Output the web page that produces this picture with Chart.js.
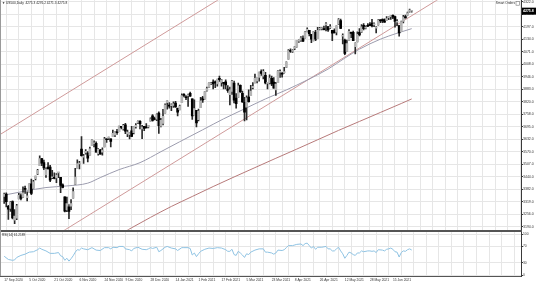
<!DOCTYPE html>
<html><head><meta charset="utf-8">
<script src="https://cdn.jsdelivr.net/npm/chart.js"></script>
<style>
html,body{margin:0;padding:0;background:#fff;overflow:hidden;}
#wrap{position:relative;width:536px;height:284px;background:#fff;}
#c1{position:absolute;left:0;top:0;}
#c2{position:absolute;left:0;top:232px;}
#sep{position:absolute;left:0;top:230px;width:522px;height:2px;background:#555;}
#lb{position:absolute;left:0;top:0;width:1px;height:276px;background:#9a9a9a;}
</style></head><body>
<div id="wrap">
<canvas id="c1" width="536" height="230"></canvas>
<div id="sep"></div>
<canvas id="c2" width="536" height="52"></canvas>
<div id="lb"></div>
</div>
<script>
// ---------------- DATA ----------------
const symbolName = 'US500,Daily';
const xLabels = ['17 Sep 2020','5 Oct 2020','21 Oct 2020','6 Nov 2020','24 Nov 2020','9 Dec 2020','28 Dec 2020','14 Jan 2021','1 Feb 2021','17 Feb 2021','5 Mar 2021','23 Mar 2021','8 Apr 2021','26 Apr 2021','12 May 2021','28 May 2021','15 Jun 2021'];
const xLabelBars = [0,12,24,36,48,58,70,82,93,104,116,128,139,151,163,175,186];
const priceTicks = [3194.0,3256.0,3319.0,3382.0,3444.0,3507.0,3570.0,3632.0,3695.0,3758.0,3820.0,3883.0,3946.0,4008.0,4071.0,4134.0,4197.0,4260.0,4322.0];
const rsiTicks = [0,30,70,100];

const openP = [3346,3357,3295,3285,3320,3226,3236,3333,3350,3341,
3385,3339,3367,3408,3385,3434,3459,3500,3535,3515,
3453,3493,3493,3439,3439,3438,3464,3441,3403,3343,
3278,3293,3296,3336,3406,3485,3508,3583,3543,3564,
3563,3552,3600,3610,3612,3560,3579,3567,3594,3635,
3638,3634,3645,3654,3668,3670,3694,3684,3705,3659,
3656,3675,3666,3696,3714,3722,3684,3698,3694,3694,
3723,3750,3736,3733,3764,3698,3712,3764,3816,3803,
3801,3802,3814,3788,3781,3816,3857,3845,3851,3863,
3836,3755,3778,3731,3791,3840,3836,3878,3893,3910,
3920,3917,3911,3939,3918,3916,3921,3885,3857,3873,
3915,3839,3842,3903,3863,3818,3793,3844,3851,3891,
3916,3925,3943,3973,3949,3953,3913,3916,3938,3920,
3880,3917,3969,3963,3967,3993,4035,4075,4074,4089,
4097,4125,4130,4141,4140,4174,4180,4159,4128,4170,
4138,4185,4187,4186,4207,4198,4192,4179,4178,4170,
4210,4228,4150,4131,4074,4129,4169,4170,4098,4121,
4169,4170,4205,4191,4201,4210,4216,4207,4191,4207,
4229,4234,4233,4229,4243,4248,4255,4249,4220,4204,
4173,4224,4249,4256,4274,4275.3];
const highP = [3362,3363,3301,3320,3323,3279,3306,3361,3358,3393,
3397,3369,3409,3432,3426,3447,3482,3549,3537,3528,
3489,3515,3502,3476,3464,3460,3466,3441,3409,3343,
3342,3305,3330,3389,3486,3529,3521,3646,3557,3581,
3570,3593,3629,3624,3619,3586,3582,3589,3642,3635,
3644,3634,3678,3670,3682,3699,3698,3708,3712,3678,
3665,3697,3695,3711,3725,3726,3702,3698,3711,3703,
3740,3756,3744,3760,3770,3738,3783,3811,3826,3817,
3810,3820,3823,3789,3804,3860,3862,3852,3859,3870,
3836,3830,3778,3784,3843,3848,3872,3894,3916,3919,
3931,3926,3935,3950,3933,3916,3931,3902,3895,3928,
3925,3862,3914,3906,3874,3843,3851,3881,3903,3917,
3960,3944,3970,3981,3983,3969,3919,3956,3950,3942,
3919,3978,3981,3969,3994,4021,4083,4087,4083,4098,
4129,4132,4148,4152,4173,4192,4180,4159,4175,4179,
4194,4194,4193,4201,4218,4199,4209,4179,4187,4202,
4238,4236,4162,4135,4131,4183,4171,4176,4117,4172,
4188,4209,4213,4202,4214,4218,4235,4217,4198,4234,
4233,4237,4237,4249,4249,4255,4258,4251,4233,4204,
4226,4255,4256,4271,4286,4276.2];
const lowP = [3310,3293,3230,3270,3232,3209,3228,3333,3328,3340,
3361,3323,3367,3354,3385,3428,3455,3500,3500,3480,
3441,3483,3420,3435,3433,3415,3440,3364,3388,3268,
3269,3233,3279,3336,3405,3485,3484,3547,3511,3557,
3519,3552,3600,3594,3567,3553,3557,3552,3594,3617,
3630,3594,3645,3645,3657,3670,3684,3678,3660,3645,
3634,3645,3659,3688,3711,3685,3636,3676,3689,3690,
3723,3723,3730,3726,3662,3695,3705,3764,3784,3789,
3776,3792,3792,3750,3780,3816,3845,3831,3797,3847,
3732,3755,3694,3725,3791,3817,3834,3874,3892,3907,
3885,3891,3899,3923,3899,3885,3885,3868,3805,3858,
3815,3789,3842,3868,3818,3724,3730,3819,3851,3885,
3916,3915,3924,3953,3935,3910,3885,3911,3901,3889,
3853,3917,3943,3944,3964,3992,4035,4069,4068,4083,
4095,4119,4124,4123,4140,4171,4151,4118,4126,4128,
4138,4182,4182,4181,4177,4174,4188,4128,4165,4157,
4208,4188,4111,4057,4074,4129,4143,4127,4061,4121,
4152,4168,4182,4187,4198,4203,4197,4198,4167,4206,
4218,4218,4219,4229,4233,4234,4238,4196,4203,4150,
4173,4217,4241,4256,4271,4271.3];
const closeP = [3357,3319,3281,3316,3237,3247,3298,3351,3335,3363,
3381,3348,3408,3361,3419,3447,3477,3535,3512,3489,
3483,3484,3427,3443,3436,3453,3465,3401,3391,3271,
3310,3270,3310,3370,3443,3510,3509,3550,3545,3572,
3537,3585,3627,3610,3568,3582,3558,3578,3635,3630,
3638,3622,3662,3669,3666,3699,3692,3702,3673,3668,
3663,3647,3695,3702,3722,3709,3694,3687,3690,3703,
3735,3727,3732,3756,3701,3727,3748,3804,3825,3799,
3801,3810,3795,3768,3799,3852,3853,3841,3855,3849,
3750,3787,3714,3774,3826,3830,3872,3887,3915,3911,
3910,3916,3934,3932,3931,3913,3906,3876,3881,3925,
3829,3811,3901,3870,3820,3768,3841,3821,3875,3898,
3939,3943,3969,3963,3974,3915,3913,3940,3911,3889,
3910,3975,3971,3959,3973,4020,4078,4074,4080,4097,
4129,4128,4142,4125,4171,4185,4163,4135,4173,4135,
4180,4188,4187,4183,4211,4181,4192,4165,4168,4202,
4233,4189,4152,4063,4113,4174,4164,4128,4115,4159,
4156,4197,4188,4196,4200,4204,4202,4208,4192,4230,
4227,4227,4220,4239,4247,4255,4246,4224,4222,4166,
4224,4246,4242,4267,4281,4275.8];

// moving averages (bar index, value)
const ma50Bars = [0,10,20,30,40,46,55,65,75,84,95,105,115,125,135,145,155,163,170,180,188,195];
const ma50Vals = [3352,3372,3390,3398,3412,3440,3480,3515,3570,3620,3680,3735,3785,3835,3880,3930,3985,4040,4085,4135,4165,4188];
const ma200Bars = [55,61,70,80,90,100,110,120,130,140,150,160,170,180,190,195];
const ma200Vals = [3152,3188,3240,3295,3345,3395,3443,3490,3537,3583,3630,3677,3722,3767,3812,3835];
// channel lines (bar index, price)
const chanMidBars = [-2,247];
const chanMidVals = [2976,4590];
const chanUpBars = [-2,247];
const chanUpVals = [3656,5270];

// RSI(14)
const rsiLabel = 'RSI(14) 61.2189';
const rsiBars = [0,2,4,5,6,8,10,12,14,16,17,18,20,22,24,26,27,28,29,30,31,32,33,34,35,36,37,38,40,42,44,46,48,50,51,52,54,55,57,58,60,61,62,64,66,68,69,70,71,73,74,75,77,78,80,82,83,85,86,88,89,90,91,92,93,94,96,98,100,102,104,106,107,108,109,110,111,112,113,114,115,116,117,118,120,122,124,125,126,128,129,130,131,133,134,135,136,138,140,142,143,144,145,146,147,148,149,150,152,154,155,156,157,158,159,160,161,162,163,164,165,166,167,168,169,170,171,172,174,175,176,177,178,179,181,182,183,184,185,186,187,188,189,190,191,192,193,194,195];
const rsiVals = [46,38,36,37,43,48,51,56,57,62,66,63,59,53,53,55,47,45,36,41,34,40,47,56,62,61,66,64,62,67,61,60,67,67,64,68,67,70,70,64,62,59,65,68,63,62,64,67,65,68,57,60,68,70,66,64,60,67,67,67,65,49,54,45,52,58,63,66,65,67,66,62,58,58,63,50,48,58,54,49,43,52,50,56,61,64,64,56,56,54,51,54,61,60,62,67,72,72,75,76,72,77,78,72,66,70,63,68,68,70,64,64,59,59,64,68,59,52,41,48,56,54,50,48,54,54,59,57,59,59,58,59,55,62,61,59,63,64,66,63,57,56,44,55,59,58,62,64,61.2];

// ---------------- CHART ----------------
const FONT = '"Liberation Sans", Arial, sans-serif';
const X_MIN = -2, X_MAX = 247.3;
const gridCol = '#e6e6e6';
const axisCol = '#3a3a3a';
const n = closeP.length - 1;
const idx = closeP.map((_, i) => i);

function gridTicks(scale) {
  const t = [];
  for (let v = X_MIN; v <= X_MAX; v += 6) t.push({value: v});
  scale.ticks = t;
}
const fixW = s => { s.width = 15; };

const hdrPlugin = {
  id: 'hdr',
  afterDraw(chart) {
    const ctx = chart.ctx, a = chart.chartArea;
    ctx.save();
    ctx.font = '3.2px ' + FONT;
    ctx.fillStyle = '#222';
    ctx.textBaseline = 'middle';
    ctx.textAlign = 'left';
    ctx.fillText('\u25BC ' + symbolName + '  ' + [openP[n], highP[n], lowP[n], closeP[n]].map(v => v.toFixed(1)).join(' '), 2, 3.5);
    ctx.textAlign = 'right';
    ctx.fillText('Smart Orders', a.right - 6, 3.5);
    ctx.strokeStyle = '#777'; ctx.lineWidth = 0.6;
    ctx.strokeRect(a.right - 5, 1.6, 3.6, 3.6);
    const y = chart.scales.y.getPixelForValue(closeP[n]);
    ctx.fillStyle = '#000';
    ctx.fillRect(a.right + 1, y - 3.5, chart.width - a.right - 1, 7);
    ctx.fillStyle = '#fff';
    ctx.textAlign = 'left';
    ctx.font = 'bold 3.5px ' + FONT;
    ctx.fillText(closeP[n].toFixed(1), a.right + 2, y + 0.2);
    ctx.restore();
  }
};

new Chart(document.getElementById('c1'), {
  type: 'bar',
  data: {
    datasets: [
      { label: 'wick', data: idx.map(i => ({x: i, y: [lowP[i], highP[i]]})),
        backgroundColor: '#2a2a2a', barThickness: 1, grouped: false, borderWidth: 0, order: 1 },
      { label: 'body', data: idx.map(i => ({x: i, y: [Math.min(openP[i], closeP[i]), Math.max(openP[i], closeP[i])]})),
        backgroundColor: c => closeP[c.dataIndex] >= openP[c.dataIndex] ? '#b4b4b4' : '#000000',
        barThickness: 2, grouped: false, borderWidth: 0, minBarLength: 1, order: 0 },
      { type: 'line', label: 'MA slow', data: ma50Bars.map((b, k) => ({x: b, y: ma50Vals[k]})),
        borderColor: '#9c9cae', borderWidth: 1, pointRadius: 0, cubicInterpolationMode: 'monotone', order: 2 },
      { type: 'line', label: 'MA long', data: ma200Bars.map((b, k) => ({x: b, y: ma200Vals[k]})),
        borderColor: '#b77a7a', borderWidth: 1, pointRadius: 0, cubicInterpolationMode: 'monotone', order: 2 },
      { type: 'line', label: 'Channel mid', data: chanMidBars.map((b, k) => ({x: b, y: chanMidVals[k]})),
        borderColor: '#cf9a9a', borderWidth: 1, pointRadius: 0, order: 3 },
      { type: 'line', label: 'Channel up', data: chanUpBars.map((b, k) => ({x: b, y: chanUpVals[k]})),
        borderColor: '#cf9a9a', borderWidth: 1, pointRadius: 0, order: 3 }
    ]
  },
  options: {
    responsive: false, animation: false, events: [],
    layout: {padding: 0},
    plugins: {legend: {display: false}, tooltip: {enabled: false}},
    scales: {
      x: { type: 'linear', min: X_MIN, max: X_MAX, offset: false,
           afterBuildTicks: gridTicks,
           ticks: {display: false},
           grid: {color: gridCol, drawTicks: false, lineWidth: 1},
           border: {display: false} },
      y: { type: 'linear', position: 'right', min: 3177.6, max: 4331,
           afterBuildTicks: s => { s.ticks = priceTicks.map(v => ({value: v})); },
           afterFit: fixW,
           ticks: {font: {size: 3.5, family: FONT, lineHeight: 0.1}, color: '#333', padding: 0, autoSkip: false,
                   callback: v => v.toFixed(1)},
           grid: {color: gridCol, tickColor: axisCol, tickLength: 2, lineWidth: 1},
           border: {display: true, color: axisCol, width: 1} }
    }
  },
  plugins: [hdrPlugin]
});

const rsiPlugin = {
  id: 'rsiHdr',
  afterDraw(chart) {
    const ctx = chart.ctx;
    ctx.save();
    ctx.font = '3.2px ' + FONT;
    ctx.fillStyle = '#222';
    ctx.textBaseline = 'middle';
    ctx.fillText(rsiLabel, 2, 2.8);
    ctx.restore();
  }
};

new Chart(document.getElementById('c2'), {
  type: 'line',
  data: {
    datasets: [
      { label: 'RSI', data: rsiBars.map((b, k) => ({x: b, y: rsiVals[k]})),
        borderColor: '#8fc3e3', borderWidth: 1, pointRadius: 0, tension: 0 }
    ]
  },
  options: {
    responsive: false, animation: false, events: [],
    layout: {padding: 0},
    plugins: {legend: {display: false}, tooltip: {enabled: false}},
    scales: {
      x: { type: 'linear', min: X_MIN, max: X_MAX, offset: false, position: 'bottom',
           afterBuildTicks: gridTicks,
           ticks: {display: false},
           grid: {color: gridCol, drawTicks: false},
           border: {display: false} },
      x2: { type: 'linear', min: X_MIN, max: X_MAX, offset: false, position: 'bottom',
            afterBuildTicks: s => { s.ticks = xLabelBars.map(v => ({value: v})); },
            afterFit: s => { s.height = 8; },
            ticks: {align: 'start', autoSkip: false, maxRotation: 0, minRotation: 0, padding: 2,
                    font: {size: 3.3, family: FONT}, color: '#333',
                    callback: (v) => { const k = xLabelBars.indexOf(v); return k >= 0 ? xLabels[k] : ''; }},
            grid: {display: false, drawTicks: false},
            border: {display: true, color: '#555', width: 1} },
      y: { type: 'linear', position: 'right', min: -2.4, max: 104.9,
           afterBuildTicks: s => { s.ticks = rsiTicks.map(v => ({value: v})); },
           afterFit: fixW,
           ticks: {font: {size: 3.3, family: FONT, lineHeight: 0.1}, color: '#333', padding: 0, autoSkip: false},
           grid: {color: gridCol, tickColor: axisCol, tickLength: 2},
           border: {display: true, color: axisCol, width: 1} }
    }
  },
  plugins: [rsiPlugin]
});
</script>
</body></html>
